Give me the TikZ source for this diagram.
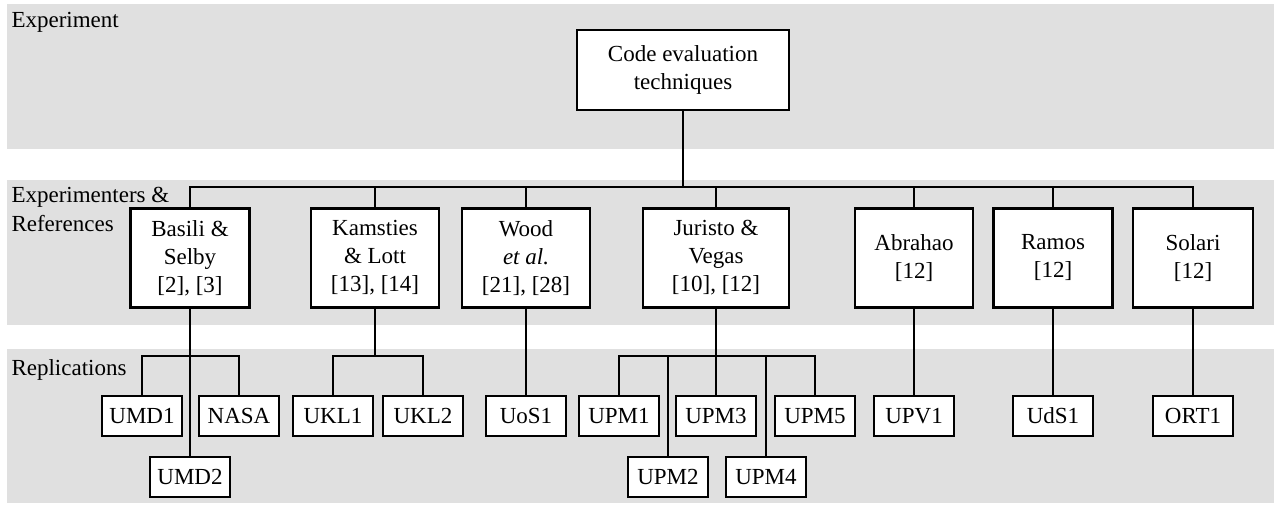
\documentclass[tikz,border=0pt]{standalone}
\usepackage{fontspec}
\setmainfont{Liberation Serif}
\definecolor{bandgray}{RGB}{224,224,224}
\begin{document}
\begin{tikzpicture}[x=1pt,y=-1pt,
				every node/.style={font=\fontsize{23}{28}\selectfont},
				box/.style={draw,fill=white,line width=2.6pt,align=center,inner sep=0pt},
				topbox/.style={box,minimum height=99pt},
				repbox/.style={box,minimum width=80pt,minimum height=40pt},
				link/.style={line width=2pt}]
\useasboundingbox (0,0) rectangle (1274,504);
\fill[bandgray] (7,4) rectangle (1274,149);
\fill[bandgray] (7,180) rectangle (1274,325);
\fill[bandgray] (7,349) rectangle (1274,503);
\node[anchor=base west] (lexp) at (8,27) {Experiment};
\node[anchor=base west] (lref1) at (8,202) {Experimenters \&};
\node[anchor=base west] (lref2) at (8,231) {References};
\node[anchor=base west] (lrep) at (8,375) {Replications};
\node[box,minimum width=212pt,minimum height=80pt] (root) at (683,70) {Code evaluation\\techniques};
\node[topbox,minimum width=119pt] (basili) at (190,258) {Basili \&\\Selby\\{[2], [3]}};
\node[topbox,minimum width=128pt] (kamsties) at (375,258) {Kamsties\\\& Lott\\{[13], [14]}};
\node[topbox,minimum width=128pt] (wood) at (526,258) {Wood\\\textit{et al.}\\{[21], [28]}};
\node[topbox,minimum width=146pt] (juristo) at (716,258) {Juristo \&\\Vegas\\{[10], [12]}};
\node[topbox,minimum width=118pt] (abrahao) at (914,258) {Abrahao\\{[12]}};
\node[topbox,minimum width=119pt] (ramos) at (1053,258) {Ramos\\{[12]}};
\node[topbox,minimum width=120pt] (solari) at (1193,258) {Solari\\{[12]}};
\node[repbox] (umd1) at (142,416) {UMD1};
\node[repbox] (nasa) at (239,416) {NASA};
\node[repbox] (umd2) at (190,477) {UMD2};
\node[repbox] (ukl1) at (333,416) {UKL1};
\node[repbox] (ukl2) at (423,416) {UKL2};
\node[repbox] (uos1) at (526,416) {UoS1};
\node[repbox] (upm1) at (619,416) {UPM1};
\node[repbox] (upm2) at (668,477) {UPM2};
\node[repbox] (upm3) at (716,416) {UPM3};
\node[repbox] (upm4) at (766,477) {UPM4};
\node[repbox] (upm5) at (815,416) {UPM5};
\node[repbox] (upv1) at (914,416) {UPV1};
\node[repbox] (uds1) at (1053,416) {UdS1};
\node[repbox] (ort1) at (1193,416) {ORT1};
\coordinate (bus) at (683,187);
\coordinate (subbus) at (0,356);
\draw[link] (root.south) -- (bus);
\draw[link] (basili.north) -- (basili.north |- bus) -- (solari.north |- bus) -- (solari.north);
\foreach \n in {kamsties,wood,juristo,abrahao,ramos}
	\draw[link] (\n.north) -- (\n.north |- bus);
\draw[link] (basili.south) -- (umd2.north);
\draw[link] (umd1.north) -- (umd1.north |- subbus) -- (nasa.north |- subbus) -- (nasa.north);
\draw[link] (kamsties.south) -- (kamsties.south |- subbus);
\draw[link] (ukl1.north) -- (ukl1.north |- subbus) -- (ukl2.north |- subbus) -- (ukl2.north);
\draw[link] (wood.south) -- (uos1.north);
\draw[link] (juristo.south) -- (juristo.south |- subbus);
\draw[link] (upm1.north) -- (upm1.north |- subbus) -- (upm5.north |- subbus) -- (upm5.north);
\foreach \n in {upm2,upm3,upm4}
	\draw[link] (\n.north) -- (\n.north |- subbus);
\draw[link] (abrahao.south) -- (upv1.north);
\draw[link] (ramos.south) -- (uds1.north);
\draw[link] (solari.south) -- (ort1.north);
\end{tikzpicture}
\end{document}
